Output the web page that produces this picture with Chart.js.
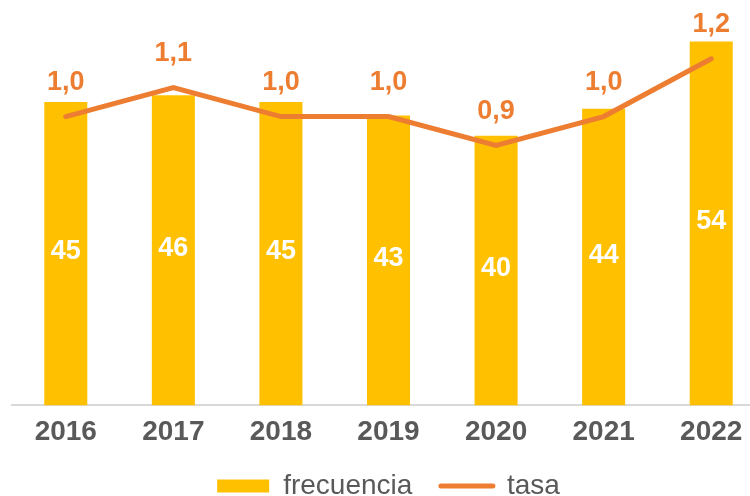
<!DOCTYPE html>
<html>
<head>
<meta charset="utf-8">
<script src="https://cdn.jsdelivr.net/npm/chart.js@4"></script>
<style>
  html, body { margin: 0; padding: 0; overflow: hidden; background: #fff; }
  #wrap { width: 765px; height: 510px; position: relative; }
</style>
</head>
<body>
<div id="wrap"><canvas id="grafico"></canvas></div>
<script>
var anios = ["2016", "2017", "2018", "2019", "2020", "2021", "2022"];
var frecuencia = [45, 46, 45, 43, 40, 44, 54];
var tasa = [1.0, 1.1, 1.0, 1.0, 0.9, 1.0, 1.2];

var amarillo = "#FFC000";
var naranja = "#ED7D31";
var gris = "#595959";
var fuente = "'Liberation Sans', Arial, sans-serif";

// etiquetas de valores (no hay plugin datalabels)
var etiquetas = {
    id: "etiquetas",
    afterDatasetsDraw: function(chart) {
        var ctx = chart.ctx;
        ctx.save();
        ctx.textAlign = "center";
        ctx.textBaseline = "middle";
        ctx.font = "bold 27px " + fuente;

        var barras = chart.getDatasetMeta(0);
        ctx.fillStyle = "#fff";
        barras.data.forEach(function(bar, i) {
            ctx.fillText(frecuencia[i], bar.x, (bar.y + bar.base) / 2 - 2);
        });

        var linea = chart.getDatasetMeta(1);
        ctx.fillStyle = naranja;
        linea.data.forEach(function(p, i) {
            ctx.fillText(tasa[i].toFixed(1).replace(".", ","), p.x, p.y - 34);
        });
        ctx.restore();
    }
};

var config = {
    data: {
        labels: anios,
        datasets: [
            {
                type: "bar",
                label: "frecuencia",
                data: frecuencia,
                backgroundColor: amarillo,
                yAxisID: "y",
                barPercentage: 0.4,
                categoryPercentage: 1,
                order: 2
            },
            {
                type: "line",
                label: "tasa",
                data: tasa,
                borderColor: naranja,
                backgroundColor: naranja,
                borderWidth: 5,
                borderCapStyle: "round",
                pointRadius: 0,
                yAxisID: "y2",
                order: 1
            }
        ]
    },
    options: {
        responsive: true,
        maintainAspectRatio: false,
        animation: false,
        layout: { padding: { top: 1, left: 12, right: 0, bottom: 0 } },
        scales: {
            x: {
                grid: { display: false, drawTicks: false },
                border: { display: true, color: "#d9d9d9", width: 2 },
                ticks: {
                    color: gris,
                    padding: 10,
                    font: { family: fuente, size: 28, weight: "bold" }
                }
            },
            y: { display: false, min: 0, max: 60 },
            y2: { display: false, min: 0, max: 1.4 }
        },
        plugins: {
            tooltip: { enabled: false },
            legend: {
                display: true,
                position: "bottom",
                labels: {
                    color: gris,
                    font: { family: fuente, size: 28 },
                    usePointStyle: true,
                    pointStyleWidth: 52,
                    boxHeight: 13,
                    padding: 13,
                    generateLabels: function(chart) {
                        return [
                            { text: "frecuencia  ", fillStyle: amarillo, strokeStyle: amarillo, lineWidth: 0, pointStyle: "rect", fontColor: gris, datasetIndex: 0 },
                            { text: "tasa", fillStyle: naranja, strokeStyle: naranja, lineWidth: 5, lineCap: "round", pointStyle: "line", fontColor: gris, datasetIndex: 1 }
                        ];
                    }
                }
            }
        }
    },
    plugins: [etiquetas]
};

var chart = new Chart(document.getElementById("grafico"), config);
</script>
</body>
</html>
